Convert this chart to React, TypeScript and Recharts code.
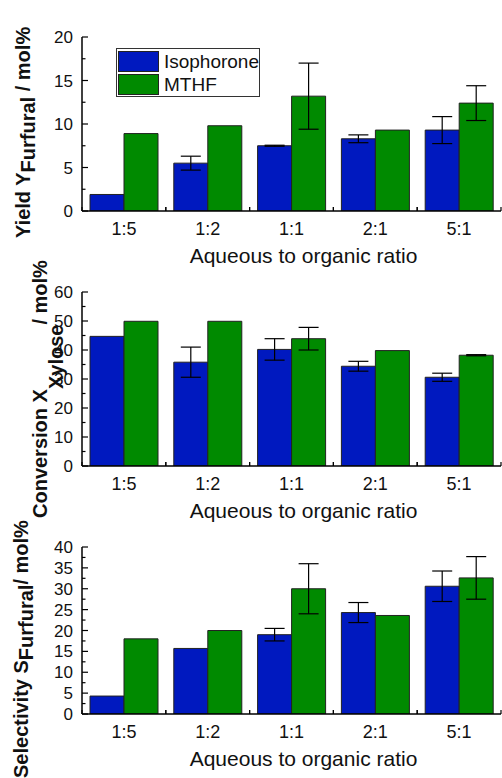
import React from 'react';
import { BarChart, Bar, XAxis, YAxis, ErrorBar, Legend, Label } from 'recharts';

const FONT = '"Liberation Sans", Arial, Helvetica, sans-serif';
const BLUE = '#0019BF';
const GREEN = '#008A00';

const categories = ['1:5', '1:2', '1:1', '2:1', '5:1'];

const yieldIso = [1.9, 5.5, 7.5, 8.3, 9.3];
const yieldIsoErr = [null, 0.8, 0.06, 0.45, 1.55];
const yieldMthf = [8.9, 9.8, 13.2, 9.3, 12.4];
const yieldMthfErr = [null, null, 3.8, null, 2.0];

const convIso = [44.7, 35.8, 40.2, 34.4, 30.6];
const convIsoErr = [null, 5.2, 3.7, 1.7, 1.4];
const convMthf = [49.9, 49.9, 43.9, 39.8, 38.2];
const convMthfErr = [null, null, 3.9, null, 0.2];

const selIso = [4.3, 15.7, 19.0, 24.3, 30.6];
const selIsoErr = [null, null, 1.5, 2.4, 3.65];
const selMthf = [18.0, 20.0, 30.0, 23.6, 32.6];
const selMthfErr = [null, null, 6.0, null, 5.1];

const yieldMajor = [0, 5, 10, 15, 20];
const yieldMinor = [2.5, 7.5, 12.5, 17.5];
const convMajor = [0, 10, 20, 30, 40, 50, 60];
const convMinor = [5, 15, 25, 35, 45, 55];
const selMajor = [0, 5, 10, 15, 20, 25, 30, 35, 40];
const selMinor = [2.5, 7.5, 12.5, 17.5, 22.5, 27.5, 32.5, 37.5];

const CHART_W = 502;
const M_LEFT = 82;
const M_RIGHT = 1;
const M_TOP = 37;
const X_AXIS_H = 64;
const BAND = (CHART_W - M_LEFT - M_RIGHT) / categories.length;

type Row = { cat: string; iso: number; isoErr: number | null; mthf: number; mthfErr: number | null };

const makeRows = (a: number[], ae: (number | null)[], b: number[], be: (number | null)[]): Row[] =>
  categories.map((cat, i) => ({ cat, iso: a[i], isoErr: ae[i], mthf: b[i], mthfErr: be[i] }));

const yieldRows = makeRows(yieldIso, yieldIsoErr, yieldMthf, yieldMthfErr);
const convRows = makeRows(convIso, convIsoErr, convMthf, convMthfErr);
const selRows = makeRows(selIso, selIsoErr, selMthf, selMthfErr);

const LINE = { stroke: '#000', strokeWidth: 1.2 };

const LeftTick = (props: any) => {
  const { x, y, payload, majors } = props;
  const isMajor = majors.includes(payload.value);
  return (
    <g>
      <line x1={x} x2={x + (isMajor ? 6 : 3.5)} y1={y} y2={y} {...LINE} />
      {isMajor && (
        <text x={x - 9} y={y} dy="0.36em" textAnchor="end" fontSize={17} fill="#111" fontFamily={FONT}>
          {payload.value}
        </text>
      )}
    </g>
  );
};

const RightTick = (props: any) => {
  const { x, y, payload, majors } = props;
  const isMajor = majors.includes(payload.value);
  return <line x1={x} x2={x - (isMajor ? 6 : 3.5)} y1={y} y2={y} {...LINE} />;
};

const BottomTick = (props: any) => {
  const { x, y, payload } = props;
  return (
    <g>
      <line x1={x - BAND / 2} x2={x - BAND / 2} y1={y} y2={y - 4} {...LINE} />
      <line x1={x + BAND / 2} x2={x + BAND / 2} y1={y} y2={y - 4} {...LINE} />
      <text x={x} y={y + 24} textAnchor="middle" fontSize={18} fill="#111" fontFamily={FONT}>
        {payload.value}
      </text>
    </g>
  );
};

const TopTick = (props: any) => {
  const { x, y } = props;
  return (
    <g>
      <line x1={x} x2={x} y1={y} y2={y + 6} {...LINE} />
      <line x1={x - BAND / 2} x2={x - BAND / 2} y1={y} y2={y + 4} {...LINE} />
      <line x1={x + BAND / 2} x2={x + BAND / 2} y1={y} y2={y + 4} {...LINE} />
    </g>
  );
};

const LegendBox = () => (
  <div
    style={{
      width: 144,
      height: 49,
      boxSizing: 'border-box',
      border: '1px solid #333',
      background: '#fff',
      padding: '2px 0 0 1px',
      fontFamily: FONT,
      fontSize: 19,
      color: '#111',
      textAlign: 'left',
    }}
  >
    {[
      { name: 'Isophorone', color: BLUE },
      { name: 'MTHF', color: GREEN },
    ].map((it, i) => (
      <div key={it.name} style={{ display: 'flex', alignItems: 'center', height: 21, marginBottom: i === 0 ? 2 : 0 }}>
        <span
          style={{
            display: 'inline-block',
            width: 41,
            height: 21,
            background: it.color,
            border: '1px solid #222',
            boxSizing: 'border-box',
            marginRight: 5,
          }}
        />
        <span style={{ lineHeight: '21px' }}>{it.name}</span>
      </div>
    ))}
  </div>
);

type PanelProps = {
  rows: Row[];
  top: number;
  height: number;
  max: number;
  majors: number[];
  minors: number[];
  letter: string;
  titleX: number;
  titleStartY: number;
  main: string;
  sub: string;
  tail: string;
  shift: number;
  legend?: boolean;
};

const Panel = (p: PanelProps) => {
  const ticks = [...p.majors, ...p.minors].sort((a, b) => a - b);
  const yTitle = () => (
    <text
      transform={`translate(${p.titleX},${p.titleStartY}) rotate(-90)`}
      fontSize={20}
      fontWeight="bold"
      fontFamily={FONT}
      fill="#111"
    >
      <tspan>{p.main}</tspan>
      <tspan dy={p.shift}>{p.sub}</tspan>
      <tspan dy={-p.shift}>{p.tail}</tspan>
    </text>
  );
  const xTitle = (lp: any) => {
    const vb = lp.viewBox || { x: M_LEFT, y: 0, width: 0 };
    return (
      <text
        x={vb.x + vb.width / 2 + 12}
        y={vb.y + 52}
        textAnchor="middle"
        fontSize={21}
        fontFamily={FONT}
        fill="#111"
      >
        Aqueous to organic ratio
      </text>
    );
  };
  const letter = () => (
    <text x={497} y={28} textAnchor="end" fontSize={20} fontWeight="bold" fontFamily={FONT} fill="#111">
      {p.letter}
    </text>
  );
  return (
    <div style={{ position: 'absolute', left: 0, top: p.top }}>
      <BarChart
        width={CHART_W}
        height={p.height}
        data={p.rows}
        margin={{ top: M_TOP, right: M_RIGHT, bottom: 0, left: 0 }}
        barCategoryGap={8}
        barGap={0}
      >
        <XAxis
          xAxisId="b"
          dataKey="cat"
          type="category"
          height={X_AXIS_H}
          tickSize={0}
          tickMargin={0}
          interval={0}
          axisLine={{ stroke: '#000', strokeWidth: 1.5 }}
          tickLine={false}
          tick={(tp: any) => <BottomTick {...tp} />}
        >
          <Label content={xTitle} />
        </XAxis>
        <XAxis
          xAxisId="t"
          dataKey="cat"
          type="category"
          orientation="top"
          height={0}
          tickSize={0}
          tickMargin={0}
          interval={0}
          axisLine={{ stroke: '#000', strokeWidth: 1.5 }}
          tickLine={false}
          tick={(tp: any) => <TopTick {...tp} />}
        />
        <YAxis
          yAxisId="l"
          width={M_LEFT}
          domain={[0, p.max]}
          ticks={ticks}
          interval={0}
          tickSize={0}
          tickMargin={0}
          allowDataOverflow
          axisLine={{ stroke: '#000', strokeWidth: 1.5 }}
          tickLine={false}
          tick={(tp: any) => <LeftTick {...tp} majors={p.majors} />}
        >
          <Label content={yTitle} />
        </YAxis>
        <YAxis
          yAxisId="r"
          orientation="right"
          width={0}
          domain={[0, p.max]}
          ticks={ticks}
          interval={0}
          tickSize={0}
          tickMargin={0}
          allowDataOverflow
          axisLine={{ stroke: '#000', strokeWidth: 1.5 }}
          tickLine={false}
          tick={(tp: any) => <RightTick {...tp} majors={p.majors} />}
        >
          <Label content={letter} />
        </YAxis>
        {p.legend && (
          <Legend
            layout="vertical"
            align="center"
            verticalAlign="middle"
            content={() => <LegendBox />}
            wrapperStyle={{ left: 116, top: 48, width: 144, height: 49 }}
          />
        )}
        <Bar
          xAxisId="b"
          yAxisId="l"
          dataKey="iso"
          name="Isophorone"
          fill={BLUE}
          stroke="#222"
          strokeWidth={1}
          isAnimationActive={false}
        >
          <ErrorBar dataKey="isoErr" width={10} stroke="#000" strokeWidth={1.2} />
        </Bar>
        <Bar
          xAxisId="b"
          yAxisId="l"
          dataKey="mthf"
          name="MTHF"
          fill={GREEN}
          stroke="#222"
          strokeWidth={1}
          isAnimationActive={false}
        >
          <ErrorBar dataKey="mthfErr" width={10} stroke="#000" strokeWidth={1.2} />
        </Bar>
      </BarChart>
    </div>
  );
};

export default function App() {
  return (
    <div style={{ position: 'absolute', left: 0, top: 0, width: 502, height: 778, overflow: 'hidden', background: '#fff' }}>
      <Panel
        rows={yieldRows}
        top={0}
        height={275}
        max={20}
        majors={yieldMajor}
        minors={yieldMinor}
        letter="a"
        titleX={30}
        titleStartY={238}
        main="Yield Y"
        sub="Furfural"
        tail=" / mol%"
        shift={5}
        legend
      />
      <Panel
        rows={convRows}
        top={255}
        height={275}
        max={60}
        majors={convMajor}
        minors={convMinor}
        letter="b"
        titleX={47}
        titleStartY={263}
        main="Conversion X"
        sub="Xylose"
        tail="/ mol%"
        shift={16}
      />
      <Panel
        rows={selRows}
        top={510}
        height={268}
        max={40}
        majors={selMajor}
        minors={selMinor}
        letter="c"
        titleX={28}
        titleStartY={268}
        main="Selectivity S"
        sub="Furfural"
        tail="/ mol%"
        shift={5}
      />
    </div>
  );
}
